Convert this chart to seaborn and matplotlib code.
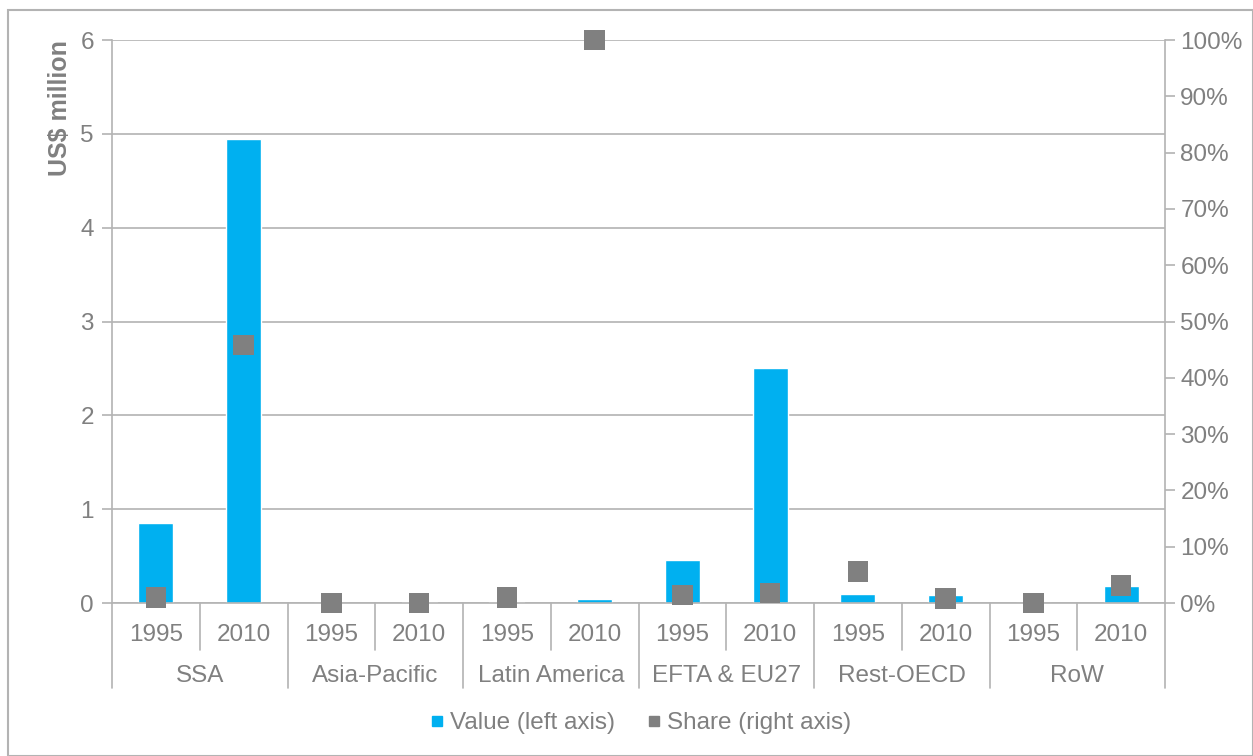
import numpy as np
import pandas as pd
import seaborn as sns
import matplotlib.pyplot as plt
from matplotlib.lines import Line2D
from matplotlib.patches import Rectangle

# Daten
regions = ["SSA", "Asia-Pacific", "Latin America", "EFTA & EU27", "Rest-OECD", "RoW"]
years = ["1995", "2010"]
values = [0.85, 4.95, 0.0, 0.01, 0.01, 0.04, 0.46, 2.50, 0.10, 0.09, 0.0, 0.18]   # US$ million
shares = [0.010, 0.458, 0.0, 0.0, 0.010, 1.0, 0.014, 0.018, 0.056, 0.008, 0.0, 0.031]

bar_col = "#00B0F0"
mark_col = "#808080"
txt_col = "#808080"
line_col = "#B3B3B3"
fs = 17.5

df = pd.DataFrame({
    "label": [r + " " + y for r in regions for y in years],
    "value": values,
    "share": shares,
})
df["pos"] = np.arange(len(df))

sns.set_style("white")
plt.rcParams["font.family"] = ["Liberation Sans", "DejaVu Sans"]

fig = plt.figure(figsize=(12.53, 7.56), dpi=100)
ax = fig.add_axes([112 / 1253, 1 - 603 / 756, (1165 - 112) / 1253, (603 - 40) / 756])

sns.barplot(data=df, x="label", y="value", order=list(df["label"]), color=bar_col,
            width=0.4, saturation=1, ax=ax, zorder=2)
ax.set_xlim(-0.5, len(df) - 0.5)
ax.set_ylim(0, 6)
ax.set_yticks(range(7))
ax.yaxis.grid(True, color=line_col, linewidth=1.2)
ax.set_axisbelow(True)
ax.set_xlabel("")
ax.set_ylabel("US$ million", color=txt_col, fontsize=18, fontweight="bold", loc="top")
ax.yaxis.set_label_coords(-40 / 1053, 1.0)
ax.set_xticks(df["pos"])
ax.set_xticklabels(years * len(regions))
ax.tick_params(axis="x", length=0, pad=15, labelsize=fs, labelcolor=txt_col)
ax.tick_params(axis="y", length=7, width=1.2, color=line_col, labelsize=fs, labelcolor=txt_col, pad=6, left=True)
for s in ["top", "right", "bottom"]:
    ax.spines[s].set_visible(False)
ax.spines["left"].set_color(line_col)
ax.spines["left"].set_linewidth(1.2)
ax.spines["left"].set_bounds(0, 6)

# zweite Achse fuer die Anteile
ax2 = ax.twinx()
sns.scatterplot(data=df, x="pos", y="share", marker="s", s=215, color=mark_col,
                edgecolor="none", ax=ax2, zorder=5, clip_on=False)
ax2.set_ylim(0, 1)
ax2.set_yticks(np.arange(0, 1.01, 0.1))
ax2.set_yticklabels([f"{int(round(v * 100))}%" for v in np.arange(0, 1.01, 0.1)])
ax2.set_ylabel("")
ax2.set_xlabel("")
ax2.tick_params(axis="y", length=7, width=1.2, color=line_col, labelsize=fs, labelcolor=txt_col, pad=4, right=True)
for s in ["top", "left", "bottom"]:
    ax2.spines[s].set_visible(False)
ax2.spines["right"].set_color(line_col)
ax2.spines["right"].set_linewidth(1.2)
ax2.set_xlim(-0.5, len(df) - 0.5)

# Trennlinien der Achsenbeschriftung
trans = ax.get_xaxis_transform()
y_short = -(650 - 603) / (603 - 40)
y_long = -(688 - 603) / (603 - 40)
for i in range(len(df) + 1):
    xx = i - 0.5
    yb = y_long if i % 2 == 0 else y_short
    ax.add_line(Line2D([xx, xx], [0, yb], transform=trans, color=line_col, lw=1.2, clip_on=False))
ax.add_line(Line2D([-0.5, len(df) - 0.5], [0, 0], transform=trans, color=line_col, lw=1.2, clip_on=False))
for j, r in enumerate(regions):
    ax.text(2 * j + 0.5, -(676 - 603) / (603 - 40), r, transform=trans, ha="center", va="center",
            fontsize=fs, color=txt_col)

# Legende
handles = [Line2D([], [], marker="s", linestyle="none", markersize=7.5, color=bar_col),
           Line2D([], [], marker="s", linestyle="none", markersize=7.5, color=mark_col)]
fig.legend(handles, ["Value (left axis)", "Share (right axis)"], loc="center",
           bbox_to_anchor=(0.511, 1 - 723 / 756), ncol=2, frameon=False, fontsize=fs,
           labelcolor=txt_col, handlelength=0.6, handletextpad=0.25, columnspacing=1.3)

# Rahmen um die Grafik
fig.patches.append(Rectangle((8 / 1253, 0), 1 - 8 / 1253, 1 - 10 / 756, transform=fig.transFigure,
                             fill=False, edgecolor=line_col, linewidth=1.5))

fig.savefig("out.png", dpi=100)
